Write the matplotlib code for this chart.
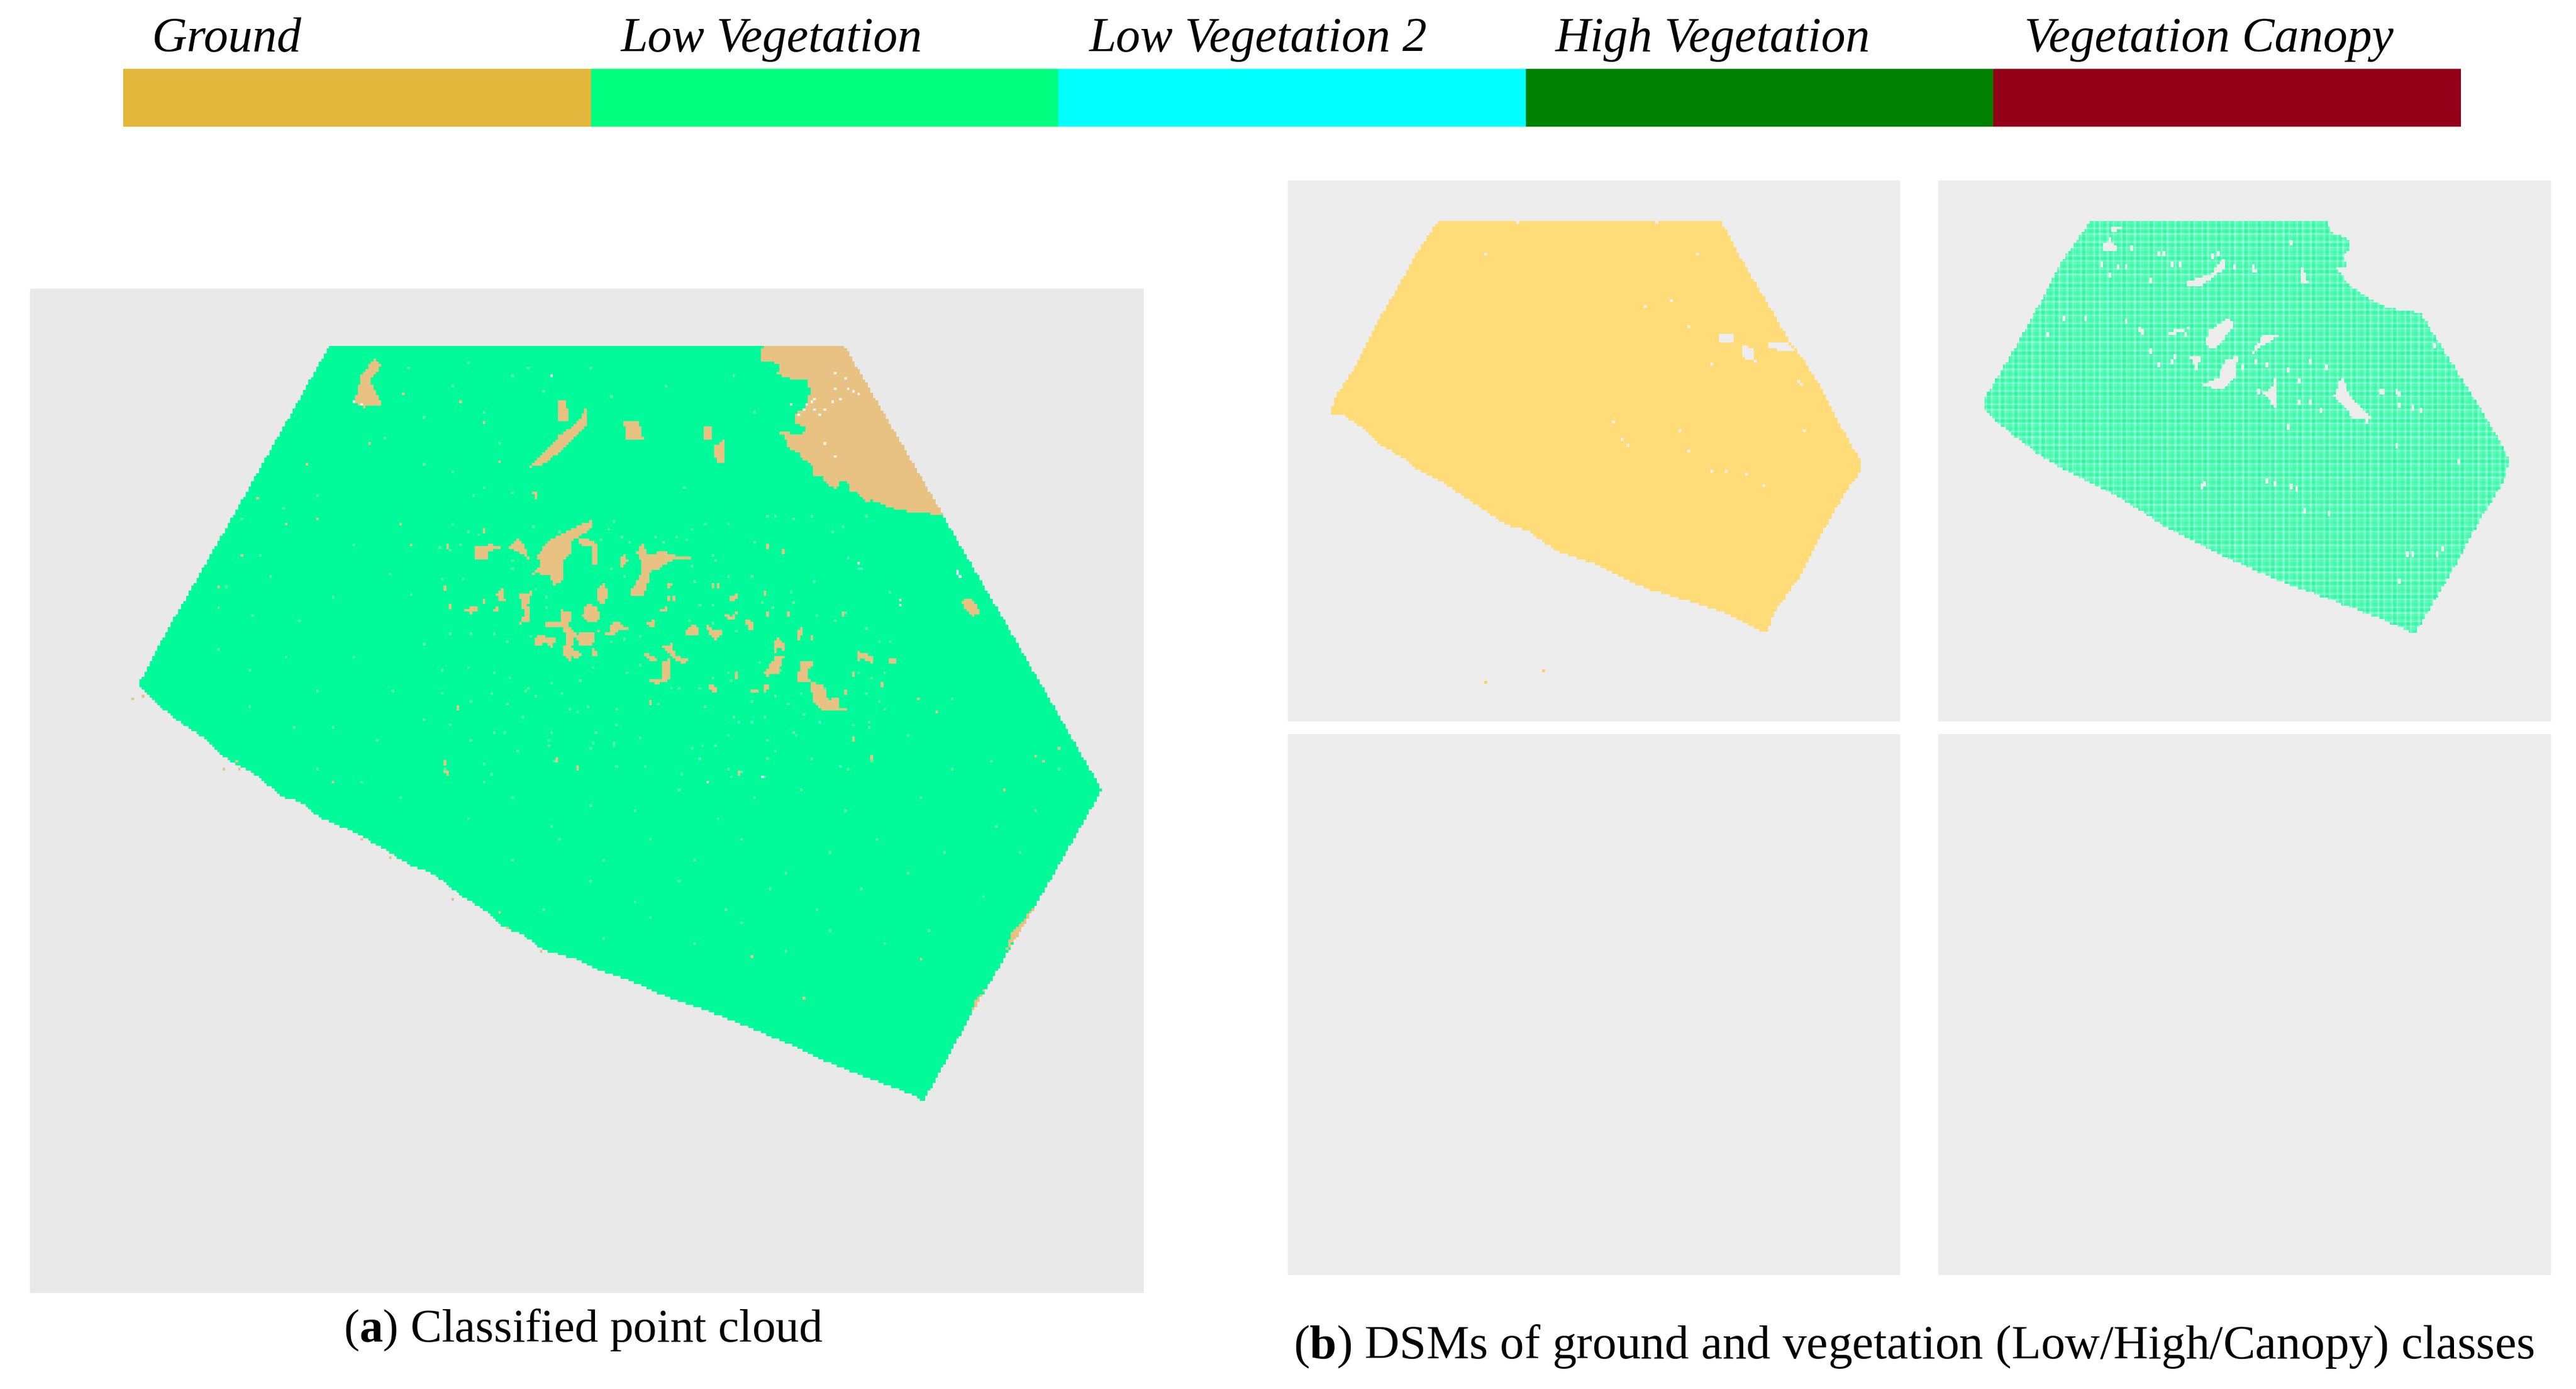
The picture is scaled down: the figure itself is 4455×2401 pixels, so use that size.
import matplotlib
matplotlib.use("Agg")
import matplotlib.pyplot as plt
import numpy as np
from matplotlib.colors import LinearSegmentedColormap, ListedColormap
from matplotlib.path import Path

plt.rcParams["font.family"] = ["Liberation Serif", "DejaVu Serif"]
plt.rcParams["mathtext.fontset"] = "custom"
plt.rcParams["mathtext.rm"] = "Liberation Serif"
plt.rcParams["mathtext.bf"] = "Liberation Serif:bold"

WIDTH, HEIGHT = 4455, 2401

# ── Legend ──────────────────────────────────────────────────────────────────
CLASS_NAMES = ["Ground", "Low Vegetation", "Low Vegetation 2", "High Vegetation", "Vegetation Canopy"]
CLASS_COLORS = ["#e3b73c", "#00ff7f", "#00ffff", "#008000", "#940018"]
CLASS_SHARE = [1, 1, 1, 1, 1]
CLASS_LABEL_X = [262, 1074, 1884, 2690, 3501]

# ── Panel (a), units are those of the crop it was read from ─────────────────
CLOUD_X = [437, 1117, 1248, 1330, 1457, 1450, 1370, 1290, 1222, 1212, 1160, 1100, 1040, 950, 890, 830, 790, 760,
           720, 690, 665, 640, 610, 575, 545, 510, 470, 425, 395, 375, 335, 300, 270, 235, 205, 183,
           205, 228, 255, 276, 311, 345, 377, 408, 425]
CLOUD_Y = [96, 96, 340, 490, 728, 745, 895, 1040, 1174, 1166, 1145, 1120, 1090, 1050, 1028, 1000, 985, 970,
           958, 935, 925, 900, 880, 850, 838, 815, 790, 770, 745, 740, 705, 685, 655, 630, 605, 580,
           535, 490, 440, 400, 335, 270, 210, 150, 118]

TOP_GROUND_X = [1012, 1117, 1248, 1240, 1206, 1178, 1153, 1149, 1137, 1124, 1122, 1111, 1107, 1091, 1088, 1078, 1073,
                1061, 1059, 1044, 1038, 1027, 1063, 1065, 1052, 1052, 1068, 1072, 1068, 1042, 1029, 1032, 1008, 1007]
TOP_GROUND_Y = [96, 96, 338, 337, 334, 328, 316, 322, 308, 303, 291, 291, 301, 291, 282, 282, 264,
                258, 250, 242, 225, 217, 225, 212, 208, 195, 181, 161, 144, 143, 136, 122, 118, 101]

OUTER_PATCHES = [
    ([700, 740, 765, 775, 775, 750, 720], [270, 225, 205, 185, 210, 240, 265]),
    ([738, 750, 752, 740], [175, 175, 205, 205]),
    ([825, 845, 852, 830], [205, 205, 232, 230]),
    ([945, 960, 958, 948], [240, 230, 265, 265]),
    ([930, 940, 942, 930], [215, 210, 232, 232]),
    ([470, 478, 495, 505, 490, 505, 480], [175, 140, 115, 125, 145, 180, 185]),
    ([1270, 1285, 1298, 1285], [460, 455, 478, 482]),
    ([1370, 1345, 1330, 1338], [895, 940, 960, 935]),
    ([1305, 1285, 1290], [1010, 1050, 1030]),
]

# Patches in the middle of the cloud, in the units of a closer crop
CENTER_PATCHES = [
    ([330, 360, 355, 375, 410, 470, 515, 540, 535, 500, 465, 465, 440, 445, 430, 405, 395, 345],
     [430, 390, 330, 280, 235, 190, 160, 145, 185, 225, 260, 320, 350, 430, 470, 480, 430, 420]),
    ([140, 200, 235, 190, 180, 140], [285, 270, 295, 305, 345, 345]),
    ([255, 285, 305, 325, 290], [295, 245, 270, 350, 310]),
    ([495, 520, 560, 550, 535, 535, 500], [245, 235, 280, 380, 370, 285, 280]),
    ([660, 700, 705, 690, 708, 725, 790, 820, 880, 870, 810, 760, 735, 725, 710],
     [530, 440, 370, 310, 260, 320, 310, 330, 335, 355, 355, 400, 410, 480, 535]),
    ([630, 650, 660, 640], [350, 320, 360, 390]),
    ([285, 310, 290, 320, 340, 320, 330, 300], [690, 640, 520, 530, 505, 580, 670, 680]),
    ([210, 235, 245, 225], [530, 490, 570, 560]),
    ([100, 130, 155, 130], [615, 590, 600, 630]),
    ([200, 212, 225, 210], [610, 590, 615, 625]),
    ([505, 520, 550, 570, 530], [640, 580, 590, 660, 680]),
    ([550, 575, 595, 575, 560], [520, 470, 520, 590, 560]),
    ([380, 435, 435, 470, 460, 490, 520, 550, 550, 525, 500, 480, 470, 475, 460, 440, 450, 440, 385],
     [680, 665, 610, 620, 700, 735, 720, 730, 770, 800, 800, 750, 800, 830, 885, 830, 760, 700, 705]),
    ([340, 350, 420, 400, 385, 360], [805, 745, 750, 815, 780, 790]),
    ([535, 560, 550, 540], [810, 820, 855, 850]),
    ([480, 500, 495, 480], [825, 830, 865, 860]),
    ([595, 630, 665, 630, 610, 570, 550, 600], [685, 670, 715, 710, 745, 730, 715, 730]),
    ([725, 745, 750, 735], [680, 665, 695, 700]),
    ([850, 880, 905, 890], [730, 675, 710, 745]),
    ([925, 950, 975, 985, 955, 935], [680, 710, 720, 730, 765, 740]),
    ([995, 1030, 1035, 1015], [550, 525, 545, 570]),
    ([985, 1010, 1030, 1020, 995], [630, 640, 620, 655, 655]),
    ([1060, 1085, 1080, 1065], [660, 670, 710, 705]),
    ([775, 810, 820, 865, 850, 825], [800, 785, 850, 860, 890, 870]),
    ([780, 800, 800, 760, 730, 780], [880, 860, 970, 995, 975, 965]),
    ([695, 730, 765, 745, 725], [850, 835, 880, 880, 855]),
    ([1120, 1160, 1190, 1170, 1130], [940, 850, 840, 940, 950]),
    ([1150, 1170, 1195, 1190, 1170, 1160], [790, 755, 790, 830, 795, 830]),
    ([1240, 1265, 1295, 1270, 1265, 1300, 1320, 1340, 1380, 1375, 1415, 1365, 1310, 1290, 1275, 1230, 1240],
     [880, 870, 885, 920, 970, 990, 1000, 1075, 1060, 1110, 1130, 1130, 1125, 1090, 985, 975, 930]),
    ([1120, 1140, 1125], [1000, 1000, 1050]),
    ([1075, 1100, 1100, 1075], [1025, 1025, 1040, 1040]),
    ([930, 955, 960, 945], [990, 990, 1035, 1035]),
    ([1435, 1460, 1490, 1490, 1460, 1435], [825, 830, 855, 885, 865, 870]),
    ([1545, 1568, 1568, 1545], [855, 860, 890, 885]),
    ([1230, 1255, 1240, 1232], [720, 700, 770, 765]),
    ([795, 810, 805, 795], [465, 470, 495, 495]),
    ([725, 745, 740], [1085, 1080, 1110]),
    ([765, 790, 790], [615, 590, 625]),
]
CENTER_SPECK_X = [345, 350, 170, 45, 172, 40, 55, 800, 815, 1135, 1190, 945, 965, 1030, 1120, 1135, 1205, 1030, 1280,
                  1390, 1420, 80, 420, 1395, 1420, 1490, 1525, 40, 45, 490, 1040]
CENTER_SPECK_Y = [10, 22, 190, 280, 560, 490, 590, 550, 545, 275, 300, 480, 475, 950, 515, 625, 625, 935, 750,
                  630, 930, 1105, 1380, 1035, 1275, 1370, 995, 1400, 1455, 1425, 1450]
# Faint half-covered cells that give the cloud its streaky look, same crop units
FAINT_X = [70, 115, 150, 340, 430, 595, 615, 635, 570, 665, 750, 780, 825, 860, 880, 920, 945, 960, 1005, 1085, 1130,
           1220, 1280, 1350, 1390, 1470, 20, 60, 95, 270, 265, 30, 100, 350, 385, 600, 650, 880, 890, 905, 950, 1000,
           1080, 1115, 1150, 1225, 1300, 1360, 1395, 1470, 1510, 1550, 60, 130, 210, 250, 330, 380, 600, 650, 700,
           870, 950, 1030, 1010, 1110, 1180, 1440, 1490, 1530, 30, 120, 210, 260, 320, 400, 500, 540, 660, 700, 810,
           900, 945, 1005, 1080, 1160, 1250, 1330, 1470, 1510, 30, 130, 200, 250, 310, 350, 440, 520, 620, 760, 830,
           920, 1020, 1120, 1200, 1260, 1360, 1480, 1530, 60, 210, 300, 400, 460, 550, 610, 700, 880, 960, 1130, 1220,
           1420, 1480, 130, 290, 390, 530, 620, 1000, 1130, 1280, 1410, 1490]
FAINT_Y = [170, 205, 215, 185, 210, 200, 155, 240, 250, 265, 240, 265, 240, 250, 200, 170, 330, 350, 170, 260, 130,
           140, 120, 210, 180, 120, 285, 305, 270, 350, 395, 450, 455, 500, 540, 400, 440, 380, 470, 590, 580, 440,
           440, 570, 600, 570, 640, 660, 630, 700, 780, 770, 740, 740, 740, 770, 750, 600, 770, 760, 745, 660, 680,
           720, 970, 880, 920, 930, 960, 940, 920, 910, 930, 960, 1010, 990, 975, 905, 940, 900, 1020, 1020, 960,
           940, 1085, 1060, 1050, 1010, 1050, 1080, 1040, 1090, 1040, 1100, 1030, 1060, 1050, 1110, 1130, 1100, 1020,
           1110, 1160, 1160, 1100, 1150, 1100, 1190, 1130, 1210, 1240, 1165, 1250, 1130, 1240, 1300, 1270, 1330, 1310, 1280,
           1250, 1210, 1220, 1280, 1340, 1310, 1330, 1420, 1440, 1380, 1380, 1440, 1400]
PALE_X = [135, 1410, 1445, 1450, 1160, 1295, 1215, 1548, 1285, 1325, 1235, 1040, 1080, 490, 240, 410, 540, 905, 1045,
          1120, 845, 1010, 1305, 390, 200, 610, 720, 910, 1160, 1230, 1380, 300, 170, 1000, 620]
PALE_Y = [12, 345, 390, 395, 120, 465, 512, 518, 1020, 1060, 940, 1190, 1195, 1140, 1250, 1390, 1300, 1380, 1450,
          1470, 1460, 1480, 1195, 1280, 1460, 1320, 1420, 1310, 1340, 1260, 1420, 1170, 1410, 1260, 1210]
# Same faint cells over the rest of the cloud, in panel units
FAINT_OUTER_X = [320, 345, 300, 375, 420, 290, 335, 360, 395, 440, 470, 515, 545, 290, 330, 380, 420, 470, 520, 560, 330,
                 390, 440, 500, 560, 420, 480, 530, 590, 640, 620, 680, 730, 780, 840, 900, 950, 1000, 1060, 1120, 680,
                 740, 800, 860, 920, 980, 1040, 1100, 1160, 720, 780, 840, 900, 960, 1020, 1080, 1140, 1200, 1250, 800,
                 860, 920, 980, 1040, 1100, 1170, 1230, 1300, 1350, 560, 600, 640, 680, 720, 620, 660, 700, 540, 510,
                 560, 600, 680, 640, 780, 810, 880, 905, 970, 1000, 1200, 1260, 1310, 1220, 1260, 1320, 1370, 1400]
FAINT_OUTER_Y = [345, 395, 440, 330, 310, 470, 480, 425, 490, 455, 380, 420, 450, 530, 560, 540, 590, 540, 590, 520, 610,
                 640, 640, 660, 630, 700, 720, 740, 700, 720, 770, 740, 780, 750, 760, 730, 770, 740, 730, 760, 830,
                 800, 830, 800, 830, 800, 850, 820, 800, 900, 860, 890, 860, 900, 870, 900, 870, 850, 820, 940,
                 910, 950, 920, 960, 930, 950, 930, 880, 820, 200, 155, 190, 140, 160, 120, 235, 130, 130, 230,
                 265, 275, 305, 300, 130, 170, 155, 300, 140, 190, 650, 600, 690, 740, 700, 780, 760, 700]

GROUND_SPECK_X = [175, 190, 295, 315, 318, 440, 480, 515, 600, 660, 670, 715, 590, 1220, 1330, 1370, 490, 405, 610,
                  640, 535, 705, 660, 545, 530, 420, 380, 290, 340, 320, 1065, 995, 1400, 1380, 1240, 1215]
GROUND_SPECK_Y = [600, 595, 700, 690, 700, 720, 800, 825, 885, 905, 925, 958, 705, 970, 730, 680, 235, 265, 175,
                  205, 165, 305, 260, 380, 350, 345, 350, 440, 315, 395, 1025, 968, 670, 690, 620, 600]

HOLE_SPECK_X = [470, 478, 1268, 1272, 1190, 1135, 935, 1010, 730, 1105, 1119, 1106, 1122, 1129, 1136, 1113, 1076,
                1101, 1078, 1091, 1084, 1063, 1057, 1048, 1105, 1091, 1068, 1075, 1268, 1192]
HOLE_SPECK_Y = [178, 180, 418, 426, 460, 405, 718, 710, 138, 137, 144, 158, 158, 161, 164, 171, 172,
                177, 187, 187, 194, 186, 194, 179, 256, 237, 180, 175, 422, 466]

# ── Panel (b) ground DSM ────────────────────────────────────────────────────
GROUND_DSM_X = [200, 540, 570, 622, 640, 665, 685, 708, 708, 690, 665, 635, 605, 597, 590, 545, 510, 450, 390, 340,
                310, 280, 240, 205, 180, 160, 130, 110, 85, 70, 78, 100, 125, 155, 180]
GROUND_DSM_Y = [143, 143, 265, 465, 520, 610, 700, 790, 825, 880, 980, 1110, 1205, 1255, 1258, 1205, 1180, 1140, 1075, 1035,
                985, 965, 905, 850, 825, 790, 750, 705, 670, 665, 615, 540, 425, 310, 210]
GROUND_DSM_NOTCHES = [
    ([595, 622, 630, 600], [470, 475, 495, 492]),
    ([538, 555, 555, 540], [450, 447, 475, 470]),
    ([565, 580, 582, 568], [480, 490, 525, 515]),
]
GROUND_DSM_SPECK_X = [258, 513, 480, 450, 502, 633, 636, 410, 640, 492, 503, 548, 570, 593, 528, 297, 465, 528, 420, 430]
GROUND_DSM_SPECK_Y = [237, 232, 360, 375, 432, 580, 585, 690, 715, 712, 770, 825, 830, 858, 825, 145, 150, 530, 735, 755]
STRAY_DSM_X = [326, 257]
STRAY_DSM_Y = [1360, 1395]

# ── Panel (b) low vegetation DSM ────────────────────────────────────────────
LOW_DSM_X = [987, 1270, 1278, 1300, 1300, 1290, 1297, 1282, 1300, 1320, 1345, 1385, 1395, 1420, 1445, 1470, 1492, 1485,
             1460, 1440, 1420, 1400, 1378, 1340, 1270, 1215, 1140, 1075, 1020, 985, 960, 920, 880, 860, 860, 890, 925, 950, 985]
LOW_DSM_Y = [143, 143, 175, 195, 215, 240, 270, 270, 320, 350, 380, 392, 430, 520, 610, 700, 790, 850,
             940, 1020, 1105, 1180, 1262, 1225, 1165, 1120, 1045, 970, 890, 850, 825, 770, 700, 655, 620, 510, 370, 260, 150]
LOW_DSM_HOLES = [
    ([1125, 1130, 1155, 1160, 1145, 1135], [480, 440, 405, 430, 470, 490]),
    ([1180, 1195, 1220, 1195], [510, 450, 450, 480]),
    ([1080, 1110, 1085], [445, 430, 455]),
    ([1000, 1010, 1020], [225, 190, 225]),
    ([1010, 1028, 1015], [160, 158, 175]),
    ([1095, 1130, 1150, 1150, 1120], [315, 290, 240, 270, 320]),
    ([1180, 1190, 1180], [255, 285, 285]),
    ([1240, 1250, 1240], [260, 315, 315]),
    ([1280, 1290, 1300, 1325, 1305], [620, 565, 620, 680, 680]),
    ([1120, 1140, 1150, 1165, 1160, 1145], [590, 570, 520, 510, 570, 600]),
    ([1195, 1210, 1210], [610, 585, 650]),
    ([1105, 1120, 1115], [510, 510, 550]),
]
LOW_DSM_SPECK_X = [955, 980, 1030, 1045, 1060, 1210, 1250, 1270, 1340, 1360, 1385, 1405, 1375, 1430, 1245, 1275, 1125,
                   1210, 1235, 1370, 1405, 1360, 1000, 1030, 1070, 1140, 1230, 1400, 1050, 935, 1090, 1225, 1250, 1410,
                   1100, 1070, 1085, 1130, 1170, 1185, 1200, 1225, 1240, 1265, 1190, 1205, 1240, 1335, 1355, 1360,
                   1320, 1005, 1035, 1075, 1085, 1115, 1160, 1135, 1020, 1010, 1060, 1095, 1355, 1375, 1120, 1200, 1230]
LOW_DSM_SPECK_Y = [405, 405, 410, 435, 490, 570, 520, 540, 605, 610, 655, 175, 650, 790, 925, 935, 855,
                   850, 865, 1045, 1040, 1120, 260, 265, 230, 230, 200, 480, 440, 450, 505, 700, 635, 1025,
                   445, 530, 520, 580, 540, 520, 530, 545, 570, 655, 600, 630, 630, 600, 605, 640,
                   680, 205, 215, 225, 255, 305, 265, 235, 265, 285, 300, 255, 750, 1040, 860, 845, 860]


def add_panel(left, top, right, bottom, color):
    """Axes placed by its edges in reference pixels, with nothing but a background."""
    ax = fig.add_axes([left / WIDTH, 1 - bottom / HEIGHT, (right - left) / WIDTH, (bottom - top) / HEIGHT])
    ax.set_facecolor(color)
    ax.set_xticks([])
    ax.set_yticks([])
    for spine in ax.spines.values():
        spine.set_visible(False)
    return ax


class Raster:
    """Blocky class grid over an axes, the way the point cloud was rasterised."""

    def __init__(self, x_lim, y_lim, cell_x, cell_y):
        self.x0, self.y0 = x_lim[0], y_lim[0]
        self.cell_x, self.cell_y = cell_x, cell_y
        self.centers_x = np.arange(x_lim[0] + cell_x / 2, x_lim[1] + cell_x, cell_x)
        self.centers_y = np.arange(y_lim[0] + cell_y / 2, y_lim[1] + cell_y, cell_y)
        self.values = np.zeros((len(self.centers_y), len(self.centers_x)), dtype=int)
        mesh_x, mesh_y = np.meshgrid(self.centers_x, self.centers_y)
        self.points = np.column_stack([mesh_x.ravel(), mesh_y.ravel()])

    def fill(self, xs, ys, value):
        inside = Path(np.column_stack([xs, ys])).contains_points(self.points)
        self.values[inside.reshape(self.values.shape)] = value

    def stamp(self, xs, ys, value, height=1):
        for x, y in zip(xs, ys):
            col = int((x - self.x0) / self.cell_x)
            row = int((y - self.y0) / self.cell_y)
            self.values[row:row + height, col] = value

    def extent(self):
        return (self.x0, self.x0 + self.values.shape[1] * self.cell_x,
                self.y0 + self.values.shape[0] * self.cell_y, self.y0)


def center_to_cloud_x(xs):
    return 573.6 + np.asarray(xs) * 0.3902


def center_to_cloud_y(ys):
    return 305.2 + np.asarray(ys) * 0.275


fig = plt.figure(figsize=(WIDTH / 100, HEIGHT / 100), dpi=100, facecolor="white")

# Legend strip
legend_ax = add_panel(213, 119, 4256, 219, "white")
legend_ax.bar(np.arange(len(CLASS_SHARE)), CLASS_SHARE, width=1.0, color=CLASS_COLORS, edgecolor="none")
legend_ax.set_xlim(-0.5, len(CLASS_SHARE) - 0.5)
legend_ax.set_ylim(0, 1)
for name, x in zip(CLASS_NAMES, CLASS_LABEL_X):
    fig.text(x / WIDTH, 1 - 89 / HEIGHT, name, fontsize=60.6, style="italic", va="baseline", ha="left", color="black")

# Panel (a): 0 empty, 1 vegetation, 2 ground, 3 hole, 4 faint ground, 5 faint hole
cloud_ax = add_panel(52, 499, 1978, 2235, "#e9e9e9")
cloud = Raster((40, 1513), (15, 1447), 4.5 * 0.7648, 4.5 * 0.8249)
cloud.fill(CLOUD_X, CLOUD_Y, 1)
cloud.fill(TOP_GROUND_X, TOP_GROUND_Y, 2)
for patch_x, patch_y in OUTER_PATCHES:
    cloud.fill(patch_x, patch_y, 2)
cloud.stamp(center_to_cloud_x(FAINT_X), center_to_cloud_y(FAINT_Y), 4)
cloud.stamp(FAINT_OUTER_X, FAINT_OUTER_Y, 4)
cloud.stamp(center_to_cloud_x(PALE_X), center_to_cloud_y(PALE_Y), 5)
for patch_x, patch_y in CENTER_PATCHES:
    cloud.fill(center_to_cloud_x(patch_x), center_to_cloud_y(patch_y), 2)
cloud.stamp(center_to_cloud_x(CENTER_SPECK_X), center_to_cloud_y(CENTER_SPECK_Y), 2, height=2)
cloud.stamp(GROUND_SPECK_X, GROUND_SPECK_Y, 2)
cloud.stamp(HOLE_SPECK_X, HOLE_SPECK_Y, 3)
cloud_cmap = ListedColormap(["#00fa9a", "#e8c282", "#f2f2f2", "#58f0a0", "#48fcc0"])
cloud_ax.imshow(np.ma.masked_equal(cloud.values, 0), cmap=cloud_cmap, vmin=0.5, vmax=5.5,
                extent=cloud.extent(), aspect="auto", interpolation="nearest")
cloud_ax.set_xlim(40, 1513)
cloud_ax.set_ylim(1447, 15)

# Panel (b), ground DSM: 0 empty, 1 ground, 2 stray points
ground_ax = add_panel(2227, 312, 3286, 1247, "#ededed")
ground_dsm = Raster((19, 757), (34, 1500), 5 * 0.6969, 5 * 1.568)
ground_dsm.fill(GROUND_DSM_X, GROUND_DSM_Y, 1)
for notch_x, notch_y in GROUND_DSM_NOTCHES:
    ground_dsm.fill(notch_x, notch_y, 0)
ground_dsm.stamp(GROUND_DSM_SPECK_X, GROUND_DSM_SPECK_Y, 0)
ground_dsm.stamp(STRAY_DSM_X, STRAY_DSM_Y, 2)
ground_ax.imshow(np.ma.masked_equal(ground_dsm.values, 0), cmap=ListedColormap(["#ffdc78", "#ffd060"]),
                 vmin=0.5, vmax=2.5, extent=ground_dsm.extent(), aspect="auto", interpolation="nearest")
ground_ax.set_xlim(19, 757)
ground_ax.set_ylim(1500, 34)

# Panel (b), low vegetation DSM with its plaid raster pattern
low_ax = add_panel(3352, 312, 4412, 1247, "#ededed")
low_dsm = Raster((803, 1542), (34, 1500), 4.68 * 0.6969, 4.68 * 1.568)
low_dsm.fill(LOW_DSM_X, LOW_DSM_Y, 1)
for hole_x, hole_y in LOW_DSM_HOLES:
    low_dsm.fill(hole_x, hole_y, 0)
low_dsm.stamp(LOW_DSM_SPECK_X, LOW_DSM_SPECK_Y, 0, height=2)
fine_mask = np.repeat(np.repeat(low_dsm.values, 2, axis=0), 2, axis=1) == 0
plaid_tones = np.array([1, -0.4, -1, -0.4, 1, 0, 0, -0.5, -0.5, 0])
tone_x = plaid_tones[(np.arange(fine_mask.shape[1]) - 5) % 10]
tone_y = plaid_tones[(np.arange(fine_mask.shape[0]) - 5) % 10]
plaid_cmap = LinearSegmentedColormap.from_list("plaid", ["#28f4a0", "#5cfcb8", "#b8ffe4"])
low_ax.imshow(np.ma.array(tone_x + tone_y[:, None], mask=fine_mask), cmap=plaid_cmap, vmin=-2, vmax=2,
              extent=low_dsm.extent(), aspect="auto", interpolation="nearest")
low_ax.set_xlim(803, 1542)
low_ax.set_ylim(1500, 34)

# Empty panels (High / Canopy classes)
add_panel(2227, 1269, 3286, 2204, "#ededed")
add_panel(3352, 1269, 4412, 2204, "#ededed")

# Captions
fig.text(594 / WIDTH, 1 - 2319 / HEIGHT, r"($\mathbf{a}$) Classified point cloud",
         fontsize=58.5, va="baseline", ha="left", color="black")
fig.text(2237 / WIDTH, 1 - 2348 / HEIGHT, r"($\mathbf{b}$) DSMs of ground and vegetation (Low/High/Canopy) classes",
         fontsize=60, va="baseline", ha="left", color="black")

fig.savefig("out.png", dpi=100, facecolor="white")
plt.close(fig)
